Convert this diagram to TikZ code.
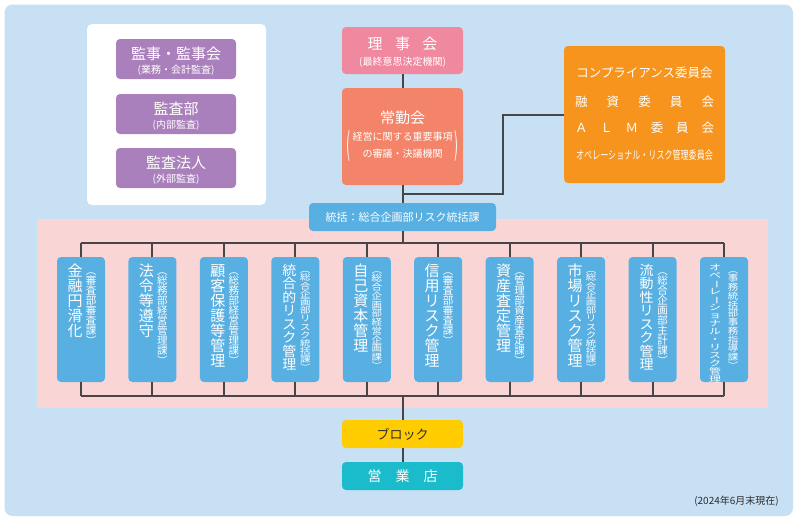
\documentclass[tikz,border=0pt]{standalone}
\usepackage{fontspec}
\usepackage{graphicx}
\setmainfont{Noto Sans CJK JP}
\usetikzlibrary{calc}
\definecolor{bgblue}{RGB}{200,224,244}
\definecolor{purp}{RGB}{170,128,188}
\definecolor{rpink}{RGB}{240,137,160}
\definecolor{salmon}{RGB}{243,132,105}
\definecolor{orng}{RGB}{246,148,30}
\definecolor{sky}{RGB}{88,175,226}
\definecolor{bandpink}{RGB}{250,213,213}
\definecolor{yel}{RGB}{255,204,0}
\definecolor{tealc}{RGB}{26,188,204}
\definecolor{lnc}{RGB}{70,70,70}
\definecolor{txtd}{RGB}{45,45,45}

\ExplSyntaxOn
\NewDocumentCommand \vcol { m m m m }
 {
  \vbox:n
   {
    \fontsize{#1pt}{#2pt}\selectfont
    \baselineskip=#2pt\relax
    \lineskiplimit=-100pt\relax
    \lineskip=0pt\relax
    \tl_map_inline:nn {#4}
     { \hbox_to_wd:nn {#1pt} { \hss \scalebox{1}[#3]{##1} \hss } }
   }
 }
\ExplSyntaxOff

\newcommand\vpo{\rotatebox[origin=c]{-90}{（}}
\newcommand\vpc{\rotatebox[origin=c]{-90}{）}}
\newcommand\vch{\rotatebox[origin=c]{-90}{ー}}
\newcommand\fs[1]{\fontsize{#1pt}{#1pt}\selectfont}
\def\mo{-6}
\def\so{10}

\tikzset{
  rbox/.style={rectangle, rounded corners=4pt, inner sep=0pt, text=white},
  conn/.style={draw=lnc, line width=2pt},
  wtxt/.style={inner sep=0pt, text=white},
}

\newcommand\vbx[9]{%
  \node[rbox, fill=sky, minimum width=48pt, minimum height=125pt] (b#1) at (#2,319.5) {};
  \node[wtxt, anchor=north] (b#1m) at ({#2+(\mo)},264) {\vcol{#3}{#4}{#5}{#6}};
  \node[wtxt, anchor=north] (b#1s) at ({#2+(\so)},265) {\vcol{10.5}{#7}{#8}{#9}};
}

\begin{document}
\begin{tikzpicture}[x=1pt, y=-1pt]
\useasboundingbox (0,0) rectangle (805,528);
\fill[bgblue, rounded corners=8pt] (4.5,4.5) rectangle (793,516);

% audit group
\node[rectangle, fill=white, rounded corners=5pt, minimum width=179pt, minimum height=181pt, inner sep=0pt] (audit) at (176.5,114.5) {};
\node[rbox, fill=purp, minimum width=120pt, minimum height=40pt] (k1) at (176,59) {};
\node[wtxt, font=\fs{15}] (k1t) at (176,54) {監事・監事会};
\node[wtxt, font=\fs{10}] (k1s) at (176,70) {(業務・会計監査)};
\node[rbox, fill=purp, minimum width=120pt, minimum height=40pt] (k2) at (176,114) {};
\node[wtxt, font=\fs{15}] (k2t) at (176,109) {監査部};
\node[wtxt, font=\fs{10}] (k2s) at (176,125) {(内部監査)};
\node[rbox, fill=purp, minimum width=120pt, minimum height=40pt] (k3) at (176,168) {};
\node[wtxt, font=\fs{15}] (k3t) at (176,163) {監査法人};
\node[wtxt, font=\fs{10}] (k3s) at (176,179) {(外部監査)};

% board
\node[rbox, fill=rpink, minimum width=121pt, minimum height=47pt] (riji) at (402.5,50.5) {};
\node[wtxt, font=\fs{15}] (rijit) at (402.5,44) {\makebox[70pt][s]{理\hfill 事\hfill 会}};
\node[wtxt, font=\fs{10}] (rijis) at (402.5,62) {(最終意思決定機関)};

\node[rbox, fill=salmon, minimum width=121pt, minimum height=97pt] (jokin) at (402.5,136.5) {};
\node[wtxt, font=\fs{15}] (jokint) at (402.5,118) {常勤会};
\node[wtxt, font=\fs{10}] (jokins1) at (402.5,137) {経営に関する重要事項};
\node[wtxt, font=\fs{10}] (jokins2) at (402.5,154) {の審議・決議機関};
\node[wtxt, font=\fs{10}] (jp1) at (348.5,146) {\resizebox{4pt}{25pt}{(}};
\node[wtxt, font=\fs{10}] (jp2) at (456.5,146) {\resizebox{4pt}{25pt}{)}};

% committees
\node[rbox, fill=orng, minimum width=161pt, minimum height=137pt] (iinkai) at (644.5,114.5) {};
\node[wtxt, font=\fs{12.5}] (o1) at (644.5,73) {コンプライアンス委員会};
\node[wtxt, font=\fs{12.5}] (o2) at (644.5,102) {\makebox[139pt][s]{融\hfill 資\hfill 委\hfill 員\hfill 会}};
\node[wtxt, font=\fs{12.5}] (o3) at (644.5,128) {\makebox[139pt][s]{Ａ\hfill Ｌ\hfill Ｍ\hfill 委\hfill 員\hfill 会}};
\node[wtxt, font=\fs{11.5}] (o4) at (644.5,155) {\scalebox{0.7}[1]{オペレーショナル・リスク管理委員会}};

% pink band
\fill[bandpink] (37,219) rectangle (768,408);

\node[rbox, fill=sky, minimum width=187pt, minimum height=28pt, font=\fs{11}] (tokatsu) at (402.5,217) {統括：総合企画部リスク統括課};

% risk boxes
\vbx{1}{81}{15}{15}{1}{金融円滑化}{10}{1}{{\vpo}審査部審査課{\vpc}}
\vbx{2}{152.44}{15}{15}{1}{法令等遵守}{10}{1}{{\vpo}総務部経営管理課{\vpc}}
\vbx{3}{223.89}{15}{15}{1}{顧客保護等管理}{10}{1}{{\vpo}総務部経営管理課{\vpc}}
\vbx{4}{295.33}{14}{13.5}{0.96}{統合的リスク管理}{8.2}{0.8}{{\vpo}総合企画部リスク統括課{\vpc}}
\vbx{5}{366.78}{15}{15}{1}{自己資本管理}{8.75}{0.85}{{\vpo}総合企画部経営企画課{\vpc}}
\vbx{6}{438.22}{15}{15}{1}{信用リスク管理}{10}{1}{{\vpo}審査部審査課{\vpc}}
\vbx{7}{509.67}{15}{15}{1}{資産査定管理}{10}{1}{{\vpo}管理部資産査定課{\vpc}}
\vbx{8}{581.11}{15}{15}{1}{市場リスク管理}{8.2}{0.8}{{\vpo}総合企画部リスク統括課{\vpc}}
\vbx{9}{652.56}{14}{13.5}{0.96}{流動性リスク管理}{10}{1}{{\vpo}総合企画部主計課{\vpc}}
\def\mo{-9}\def\so{9}
\vbx{10}{724}{12}{8}{0.68}{オペ{\vch}レ{\vch}ショナル・リスク管理}{8.75}{0.85}{{\vpo}事務統括部事務指導課{\vpc}}

% block / branch
\node[rbox, fill=yel, text=txtd, minimum width=121pt, minimum height=28pt, font=\fs{13}] (block) at (402.5,434) {ブロック};
\node[rbox, fill=tealc, minimum width=121pt, minimum height=28pt, font=\fs{14}] (shop) at (402.5,476) {\makebox[70pt][s]{営\hfill 業\hfill 店}};

\node[anchor=east, inner sep=0pt, text=txtd, font=\fs{10}] (note) at (779,501) {(2024年6月末現在)};

% connectors
\coordinate (j1) at (402.5,194);
\coordinate (busT) at (402.5,243);
\coordinate (busB) at (402.5,396);
\draw[conn] (riji.south) -- (jokin.north);
\draw[conn] (jokin.south) -- (tokatsu.north);
\draw[conn] (j1) -| ($(iinkai.west)+(-61,0)$) -- (iinkai.west);
\draw[conn] (tokatsu.south) -- (busT);
\draw[conn] (b1.north |- busT) -- (b10.north |- busT);
\draw[conn] (b1.south |- busB) -- (b10.south |- busB);
\foreach \i in {1,...,10} {
  \draw[conn] (b\i.north |- busT) -- (b\i.north);
  \draw[conn] (b\i.south) -- (b\i.south |- busB);
}
\draw[conn] (busB) -- (block.north);
\draw[conn] (block.south) -- (shop.north);
\end{tikzpicture}
\end{document}
